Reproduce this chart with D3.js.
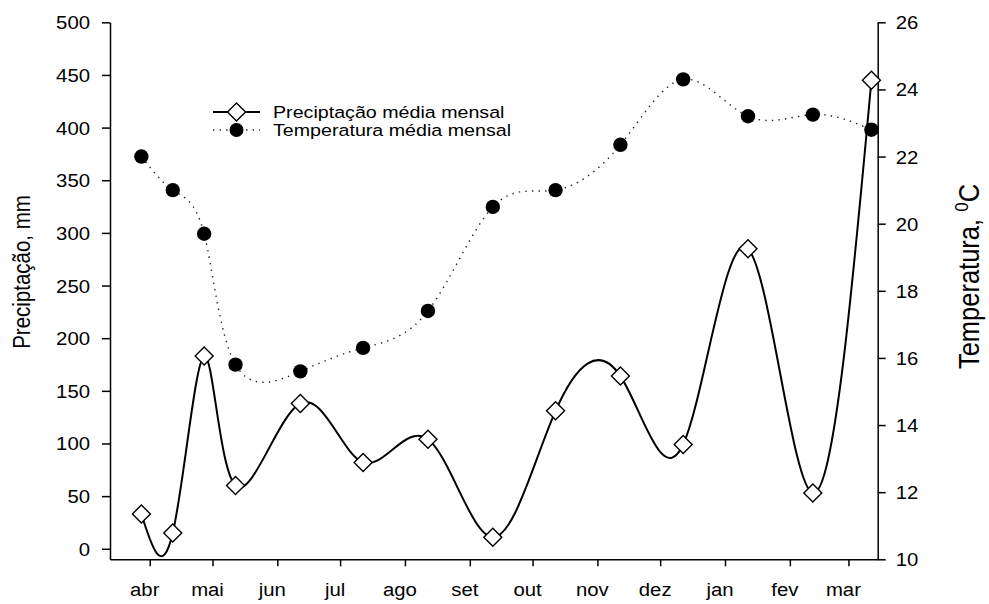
<!DOCTYPE html>
<html>
<head>
<meta charset="utf-8">
<script src="https://cdn.jsdelivr.net/npm/d3@7"></script>
<style>
  html, body { margin: 0; padding: 0; background: #fff; }
  svg { display: block; font-family: "Liberation Sans", Arial, sans-serif; }
</style>
</head>
<body>
<svg id="chart" width="989" height="604"></svg>
<script>
// Sampling days, counted from 1 April
const dias = [-4, 11, 26, 41, 72, 102, 133, 164, 194, 225, 255, 286, 317, 345];
// Monthly mean rainfall (mm)
const precipitacao = [33, 15, 183, 60, 138, 82, 104, 11, 131, 164, 99, 285, 53, 445];
// Monthly mean temperature (°C)
const temperatura = [22.0, 21.0, 19.7, 15.8, 15.6, 16.3, 17.4, 20.5, 21.0, 22.35, 24.3, 23.2, 23.25, 22.8];

// Month labels and the day each month begins
const meses = ["abr", "mai", "jun", "jul", "ago", "set", "out", "nov", "dez", "jan", "fev", "mar"];
const inicioMes = [0, 30, 61, 91, 122, 153, 183, 214, 244, 275, 306, 334];

const ticksPrecip = [0, 50, 100, 150, 200, 250, 300, 350, 400, 450, 500];
const ticksTemp = [10, 12, 14, 16, 18, 20, 22, 24, 26];

const legenda = ["Preciptação média mensal", "Temperatura média mensal"];

// Layout
const X0 = 110, X1 = 877.7, YT = 22.3, YB = 559.3;
const SX = 1.13;            // horizontal stretch of the lettering
const FONT = 18;

const svg = d3.select("#chart");

const x = d3.scaleLinear().domain([-19, 348]).range([X0, X1]);
const yP = d3.scaleLinear().domain([-10, 500]).range([YB, YT]);
const yT = d3.scaleLinear().domain([10, 26]).range([YB, YT]);

// Axes
function styleAxis(g) {
  g.attr("font-family", null).attr("font-size", null);
  g.selectAll("path.domain").attr("stroke", "#000").attr("stroke-width", 1.5);
  g.selectAll(".tick line").attr("stroke", "#000").attr("stroke-width", 1.5);
  g.selectAll(".tick text").attr("fill", "#000").style("font-size", FONT + "px");
}

const gL = svg.append("g").attr("transform", `translate(${X0},0)`)
  .call(d3.axisLeft(yP).tickValues(ticksPrecip).tickSize(8).tickSizeOuter(0));
styleAxis(gL);
gL.selectAll(".tick text").attr("x", -20 / SX).attr("dy", "0.36em")
  .attr("transform", `scale(${SX},1)`);

const gR = svg.append("g").attr("transform", `translate(${X1},0)`)
  .call(d3.axisRight(yT).tickValues(ticksTemp).tickSize(8).tickSizeOuter(0));
styleAxis(gR);
gR.selectAll(".tick text").attr("x", 18 / SX).attr("dy", "0.36em")
  .attr("transform", `scale(${SX},1)`);

const gB = svg.append("g").attr("transform", `translate(0,${YB})`)
  .call(d3.axisBottom(x).tickValues(inicioMes).tickFormat((d, i) => meses[i])
    .tickSize(7).tickSizeOuter(0));
styleAxis(gB);
gB.selectAll(".tick text").attr("y", 37.2).attr("dy", 0).attr("x", -5.5 / SX)
  .attr("transform", `scale(${SX},1)`);

// Axis titles
svg.append("text")
  .attr("transform", `translate(29.5,272) scale(${SX},1) rotate(-90)`)
  .attr("text-anchor", "middle").style("font-size", "20.5px")
  .text("Preciptação, mm");

const tTitle = svg.append("text")
  .attr("transform", `translate(979,276.5) scale(${SX},1) rotate(-90)`)
  .attr("text-anchor", "middle").style("font-size", "25.5px");
tTitle.append("tspan").text("Temperatura, ");
tTitle.append("tspan").attr("dy", -9.5).style("font-size", "17px").text("0");
tTitle.append("tspan").attr("dy", 9.5).text("C");

// Temperature series: dotted spline with filled dots
const idx = d3.range(dias.length);
svg.append("path")
  .attr("d", d3.line().x(i => x(dias[i])).y(i => yT(temperatura[i])).curve(d3.curveNatural)(idx))
  .attr("fill", "none").attr("stroke", "#222").attr("stroke-width", 1.4)
  .attr("stroke-dasharray", "1.4 5.2");

svg.append("g").selectAll("circle").data(idx).join("circle")
  .attr("cx", i => x(dias[i])).attr("cy", i => yT(temperatura[i]))
  .attr("r", 7.2).attr("fill", "#000");

// Rainfall series: solid spline with open diamonds
svg.append("path")
  .attr("d", d3.line().x(i => x(dias[i])).y(i => yP(precipitacao[i])).curve(d3.curveNatural)(idx))
  .attr("fill", "none").attr("stroke", "#000").attr("stroke-width", 2);

const diamond = d3.symbol(d3.symbolSquare, 162);
svg.append("g").selectAll("path").data(idx).join("path")
  .attr("d", diamond)
  .attr("transform", i => `translate(${x(dias[i])},${yP(precipitacao[i])}) rotate(45)`)
  .attr("fill", "#fff").attr("stroke", "#000").attr("stroke-width", 1.4);

// Legend
const legY = [112, 130];
const gLeg = svg.append("g");
gLeg.append("line").attr("x1", 213).attr("x2", 260).attr("y1", legY[0]).attr("y2", legY[0])
  .attr("stroke", "#000").attr("stroke-width", 2);
gLeg.append("path").attr("d", diamond)
  .attr("transform", `translate(236.5,${legY[0]}) rotate(45)`)
  .attr("fill", "#fff").attr("stroke", "#000").attr("stroke-width", 1.4);
gLeg.append("line").attr("x1", 213).attr("x2", 260).attr("y1", legY[1]).attr("y2", legY[1])
  .attr("stroke", "#222").attr("stroke-width", 1.4).attr("stroke-dasharray", "1.4 5.2");
gLeg.append("circle").attr("cx", 236.5).attr("cy", legY[1]).attr("r", 7).attr("fill", "#000");
gLeg.selectAll("text").data(legenda).join("text")
  .attr("transform", (d, i) => `translate(273,${legY[i] + 6}) scale(${SX},1)`)
  .style("font-size", "17.4px").attr("fill", "#000")
  .text(d => d);
</script>
</body>
</html>
